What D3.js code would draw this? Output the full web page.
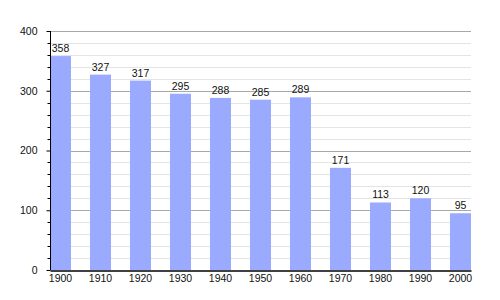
<!DOCTYPE html>
<html>
<head>
<meta charset="utf-8">
<script src="https://cdn.jsdelivr.net/npm/d3@7"></script>
<style>
  body { margin: 0; background: #fff; }
  svg text { font-family: "Liberation Sans", Arial, sans-serif; font-size: 10.5px; fill: #111; }
</style>
</head>
<body>
<svg id="chart" width="500" height="300"></svg>
<script>
const years = ['1900', '1910', '1920', '1930', '1940', '1950', '1960', '1970', '1980', '1990', '2000'];
const population = [358, 327, 317, 295, 288, 285, 289, 171, 113, 120, 95];
const majorTicks = [0, 100, 200, 300, 400];
const minorTicks = d3.range(0, 401, 20).filter(v => v % 100 !== 0);

const MARGINS = { top: 31, bottom: 30, left: 50, right: 29 };
const svg = d3.select('#chart');
const width = 500, height = 300;

const x = d3.scaleBand()
  .domain(years)
  .range([MARGINS.left, width - MARGINS.right])
  .paddingInner(0.475)
  .paddingOuter(0);

const y = d3.scaleLinear()
  .domain([0, 400])
  .range([height - MARGINS.bottom, MARGINS.top]);

// grid
const grid = svg.append('g').attr('class', 'grid');
grid.selectAll('.minor').data(minorTicks).join('line')
  .attr('x1', MARGINS.left).attr('x2', width - MARGINS.right)
  .attr('y1', d => Math.round(y(d)) + 0.5).attr('y2', d => Math.round(y(d)) + 0.5)
  .attr('stroke', '#e4e4e4');
grid.selectAll('.major').data(majorTicks.filter(d => d > 0)).join('line')
  .attr('x1', MARGINS.left).attr('x2', width - MARGINS.right)
  .attr('y1', d => Math.round(y(d)) + 0.5).attr('y2', d => Math.round(y(d)) + 0.5)
  .attr('stroke', '#a8a8a8');

// bars
svg.append('g').selectAll('rect')
  .data(years)
  .join('rect')
  .attr('x', d => x(d))
  .attr('y', (d, i) => y(population[i]))
  .attr('width', x.bandwidth())
  .attr('height', (d, i) => y(0) - y(population[i]))
  .attr('fill', '#99aaff');

// value labels
svg.append('g').selectAll('text')
  .data(years)
  .join('text')
  .attr('x', d => x(d) + x.bandwidth() / 2)
  .attr('y', (d, i) => y(population[i]) - 4)
  .attr('text-anchor', 'middle')
  .text((d, i) => population[i]);

// y axis
const axisY = svg.append('g')
  .attr('transform', `translate(${MARGINS.left + 0.5},0)`)
  .call(d3.axisLeft(y).tickValues(majorTicks).tickSize(4).tickPadding(9));
axisY.select('.domain').attr('stroke', '#000').attr('d', `M0,${MARGINS.top}V${height - MARGINS.bottom}`);
axisY.selectAll('.tick text').style('font-size', '10.5px').attr('fill', '#111');
axisY.selectAll('.minor-tick').data(minorTicks).join('line')
  .attr('class', 'minor-tick')
  .attr('x1', -3).attr('x2', 0)
  .attr('y1', d => Math.round(y(d)) + 0.5).attr('y2', d => Math.round(y(d)) + 0.5)
  .attr('stroke', '#000');

// x axis
const axisX = svg.append('g')
  .attr('transform', `translate(0,${height - MARGINS.bottom + 0.5})`)
  .call(d3.axisBottom(x).tickSize(0).tickPadding(4));
axisX.select('.domain').attr('stroke', '#000').attr('stroke-width', 1.5);
axisX.selectAll('.tick text').style('font-size', '10.5px').attr('fill', '#111');
</script>
</body>
</html>
